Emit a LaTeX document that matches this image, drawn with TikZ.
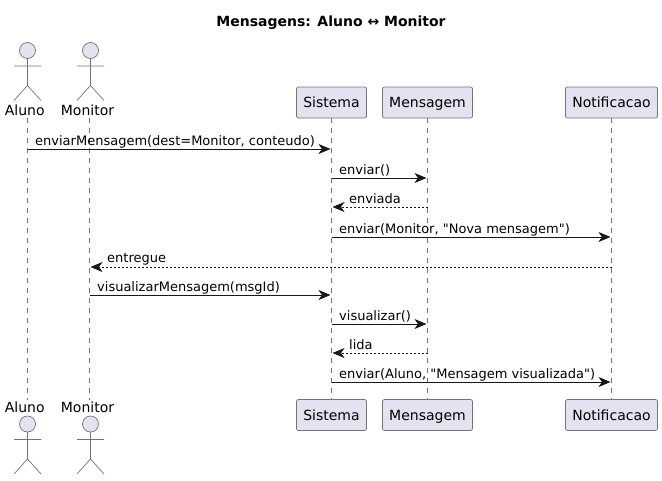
\documentclass[tikz,border=0pt]{standalone}
\usepackage{fontspec}
\setmainfont{DejaVu Sans}
\newfontfamily\plainf{DejaVu Sans}
\usetikzlibrary{arrows.meta}
\definecolor{pfill}{HTML}{E2E2F0}
\definecolor{pline}{HTML}{181818}
\tikzset{
  x=1pt,y=-1pt,
  partbox/.style={draw=pline!60,line width=.7pt,fill=pfill,rounded corners=2pt,inner sep=0pt,minimum height=31pt,text height=13pt,text depth=3pt,font=\plainf\fontsize{14}{16}\selectfont,text=black},
  actorname/.style={inner sep=0pt,font=\plainf\fontsize{14}{16}\selectfont,text=black,anchor=base},
  actorline/.style={draw=pline!60,line width=.7pt},
  lifeline/.style={draw=pline!60,line width=.6pt,dash pattern=on 5pt off 5pt},
  msg/.style={draw=pline,line width=.9pt,-{Stealth[length=12pt,width=10pt,inset=3.5pt,fill=pline]},shorten >=1pt},
  reply/.style={msg,dash pattern=on 2pt off 2pt},
  msgtext/.style={inner sep=0pt,anchor=base west,font=\plainf\fontsize{13}{15}\selectfont,text=black},
}
\newcommand{\stick}[2]{%
  \draw[actorline,fill=pfill] (#1,#2) circle (8);
  \draw[actorline] (#1,#2+8) -- (#1,#2+35)
    (#1-13.5,#2+15.5) -- (#1+13.5,#2+15.5)
    (#1-13.5,#2+50) -- (#1,#2+35) -- (#1+13.5,#2+50);
}
\begin{document}
\begin{tikzpicture}
\useasboundingbox (0,0) rectangle (662,480);
\node[font=\plainf\bfseries\fontsize{14}{16}\selectfont,anchor=center,inner sep=0pt] (title) at (331,22.5) {Mensagens: Aluno ↔ Monitor};

% participants
\coordinate (alunoT) at (27.5,118); \coordinate (alunoB) at (27.5,400);
\coordinate (monitorT) at (89.5,118); \coordinate (monitorB) at (89.5,400);
\node[partbox,minimum width=70pt] (sistemaT) at (331.5,102.5) {Sistema};
\node[partbox,minimum width=90pt] (mensagemT) at (427.5,102.5) {Mensagem};
\node[partbox,minimum width=92pt] (notifT) at (611.5,102.5) {Notificacao};
\node[partbox,minimum width=70pt] (sistemaB) at (331.5,415) {Sistema};
\node[partbox,minimum width=90pt] (mensagemB) at (427.5,415) {Mensagem};
\node[partbox,minimum width=92pt] (notifB) at (611.5,415) {Notificacao};

% lifelines
\draw[lifeline] (alunoT) -- (alunoB);
\draw[lifeline] (monitorT) -- (monitorB);
\draw[lifeline] (sistemaT) -- (sistemaB);
\draw[lifeline] (mensagemT) -- (mensagemB);
\draw[lifeline] (notifT) -- (notifB);

% actors
\stick{27.5}{50.5}
\stick{90.5}{50.5}
\stick{27.5}{424}
\stick{90.5}{424}
\node[actorname] (alunoN1) at (24.7,115) {Aluno};
\node[actorname] (monitorN1) at (87.5,115) {Monitor};
\node[actorname] (alunoN2) at (24.7,412.7) {Aluno};
\node[actorname] (monitorN2) at (87.5,412.7) {Monitor};

% message rows
\foreach \n/\y in {1/149,2/178,3/207,4/237,5/267,6/295,7/324,8/353,9/382}
  \coordinate (r\n) at (0,\y);

\draw[msg] (alunoT |- r1) -- (sistemaT |- r1);
\node[msgtext] (t1) at (35,145) {enviarMensagem(dest=Monitor, conteudo)};
\draw[msg] (sistemaT |- r2) -- (mensagemT |- r2);
\node[msgtext] (t2) at (339,174) {enviar()};
\draw[reply] (mensagemT |- r3) -- (sistemaT |- r3);
\node[msgtext] (t3) at (349,203) {enviada};
\draw[msg] (sistemaT |- r4) -- (notifT |- r4);
\node[msgtext] (t4) at (339,233) {enviar(Monitor, "Nova mensagem")};
\draw[reply] (notifT |- r5) -- (monitorT |- r5);
\node[msgtext] (t5) at (107,262) {entregue};
\draw[msg] (monitorT |- r6) -- (sistemaT |- r6);
\node[msgtext] (t6) at (97,291) {visualizarMensagem(msgId)};
\draw[msg] (sistemaT |- r7) -- (mensagemT |- r7);
\node[msgtext] (t7) at (339,320) {visualizar()};
\draw[reply] (mensagemT |- r8) -- (sistemaT |- r8);
\node[msgtext] (t8) at (349,349) {lida};
\draw[msg] (sistemaT |- r9) -- (notifT |- r9);
\node[msgtext] (t9) at (339,378) {enviar(Aluno, "Mensagem visualizada")};
\end{tikzpicture}
\end{document}
